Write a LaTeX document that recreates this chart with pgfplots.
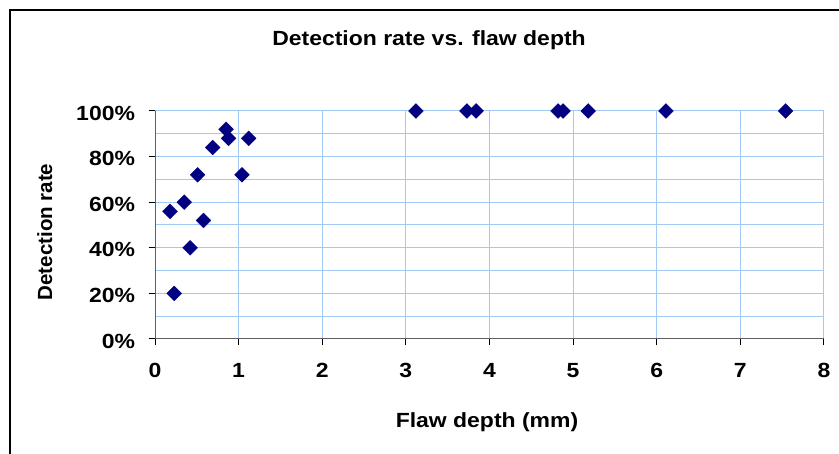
\documentclass[border=0pt]{standalone}
\usepackage{fontspec}
\setmainfont{Liberation Sans}[FakeStretch=1.12]
\newfontfamily\vlabelfont{Liberation Sans}
\usepackage{pgfplots}
\pgfplotsset{compat=1.18}
\definecolor{navymark}{RGB}{0,0,128}
\definecolor{gridblue}{RGB}{160,202,245}
\definecolor{axisgray}{RGB}{96,96,96}

\pgfplotstableread{
depth rate
0.18 56
0.23 20
0.35 60
0.42 40
0.51 72
0.58 52
0.69 84
0.85 92
0.88 88
1.04 72
1.12 88
3.12 100
3.73 100
3.84 100
4.82 100
4.88 100
5.18 100
6.11 100
7.54 100
}\flawdata

\begin{document}
\begin{tikzpicture}[x=1pt,y=1pt]
\path[use as bounding box] (0,0) rectangle (839,454);
% chart frame
\draw[line width=2pt] (10,-5) -- (10,443.5) -- (845,443.5);
\begin{axis}[
  at={(155pt,115pt)}, anchor=south west,
  scale only axis, width=669pt, height=228pt,
  xmin=0, xmax=8, ymin=0, ymax=100,
  axis x line*=bottom, axis y line*=left,
  axis line style={-, axisgray, line width=1pt},
  xtick={0,1,...,8},
  xticklabels={0,1,2,3,4,5,6,7,8},
  ytick={0,20,40,60,80,100},
  yticklabels={0\%,20\%,40\%,60\%,80\%,100\%},
  minor ytick={10,30,50,70,90},
  grid=both,
  major grid style={gridblue, line width=1pt},
  minor grid style={gridblue, line width=1pt},
  tick align=outside,
  major tick length=6.5pt,
  minor tick length=0pt,
  tick style={black, line width=1pt},
  ticklabel style={font=\fontsize{20.5}{24}\selectfont\bfseries},
  xticklabel shift=14pt,
  yticklabel shift=10pt,
  yticklabel style={yshift=-2pt},
  clip=false,
]
\addplot[only marks, mark=square*, mark size=5.3pt,
  mark options={rotate=45, fill=navymark, draw=navymark, line width=0.2pt}]
  table[x=depth, y=rate] {\flawdata};
\end{axis}
\node[anchor=base, font=\fontsize{20.5}{24}\selectfont\bfseries] at (429,408) {Detection rate vs. flaw depth};
\node[anchor=base, font=\fontsize{20.5}{24}\selectfont\bfseries] at (487,26) {Flaw depth (mm)};
\node[anchor=base, rotate=90, font=\vlabelfont\fontsize{20.5}{24}\selectfont\bfseries] at (52,222) {Detection rate};
\end{tikzpicture}
\end{document}
